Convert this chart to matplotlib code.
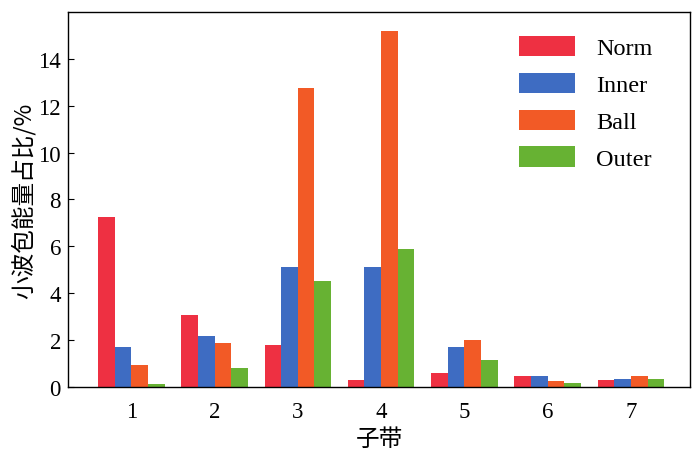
import matplotlib
matplotlib.use("Agg")
import matplotlib.pyplot as plt
import numpy as np

subbands = [1, 2, 3, 4, 5, 6, 7]
norm = [7.23, 3.08, 1.80, 0.27, 0.58, 0.47, 0.27]
inner = [1.70, 2.16, 5.12, 5.12, 1.70, 0.47, 0.35]
ball = [0.93, 1.86, 12.78, 15.20, 2.01, 0.23, 0.47]
outer = [0.10, 0.80, 4.50, 5.87, 1.13, 0.17, 0.32]
series_names = ["Norm", "Inner", "Ball", "Outer"]
colors = ["#EE3042", "#3E6CC2", "#F25A26", "#67B233"]

plt.rcParams['font.family'] = ['Liberation Serif', 'Noto Sans CJK SC']
plt.rcParams['mathtext.fontset'] = 'stix'

fig = plt.figure(figsize=(7, 4.52), dpi=100)
ax = fig.add_axes([0.097, 0.142, 0.889, 0.829])

x = np.array(subbands, dtype=float)
w = 0.2
for i, (vals, name, c) in enumerate(zip([norm, inner, ball, outer], series_names, colors)):
    ax.bar(x + (i - 1.5) * w, vals, width=w, color=c, label=name)

ax.set_xlim(0.24, 7.71)
ax.set_ylim(0, 16)
ax.set_xticks(subbands)
ax.set_yticks([0, 2, 4, 6, 8, 10, 12, 14])
ax.tick_params(direction='in', labelsize=16.5, length=4)
ax.tick_params(axis='y', pad=5)
ax.tick_params(axis='x', length=0, pad=10)
for s in ax.spines.values():
    s.set_linewidth(1.0)

ax.set_xlabel("子带", fontsize=17, family=['Noto Sans CJK SC'], labelpad=4)
ax.set_ylabel("小波包能量占比/%", fontsize=17, family=['Noto Sans CJK SC'], labelpad=2)

leg = ax.legend(loc='upper right', frameon=False, fontsize=17.5,
                handlelength=2.3, handleheight=0.9, labelspacing=0.55,
                handletextpad=0.9, bbox_to_anchor=(0.975, 0.995))

fig.savefig("out.png", dpi=100)
